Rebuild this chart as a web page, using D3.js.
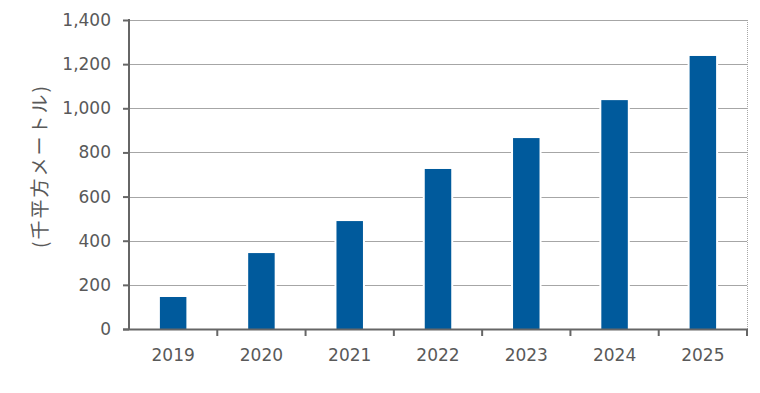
<!DOCTYPE html>
<html><head><meta charset="utf-8">
<script src="https://cdn.jsdelivr.net/npm/d3@7"></script>
<style>body{margin:0;background:#fff}svg{display:block}</style>
</head><body>
<svg id="c" width="760" height="393"></svg>
<script>
const categories = ["2019","2020","2021","2022","2023","2024","2025"];
const values = [145, 344, 489, 725, 865, 1037, 1237];
const yTicks = [0,200,400,600,800,1000,1200,1400];
const yTitle = "(千平方メートル)";

(function(){
const svg = d3.select("#c");
const pL = 129, pR = 747, pT = 20, pB = 329;
const x = d3.scaleBand().domain(categories).range([pL, pR]).paddingInner(0.7).paddingOuter(0.35);
const y = d3.scaleLinear().domain([0,1400]).range([pB, pT]);
const textColor = "#595959";
const font = "'DejaVu Sans', sans-serif";

// gridlines
svg.append("g").selectAll("line").data(yTicks.filter(d=>d>0)).join("line")
  .attr("x1", pL).attr("x2", pR)
  .attr("y1", d=>Math.round(y(d))+0.5).attr("y2", d=>Math.round(y(d))+0.5)
  .attr("stroke", "#a6a6a6").attr("stroke-width", 1);
// right border
svg.append("line").attr("x1", pR+0.5).attr("x2", pR+0.5).attr("y1", pT).attr("y2", pB)
  .attr("stroke", "#a6a6a6").attr("stroke-dasharray","1,1");

// white halo around bars (gridline gaps)
svg.append("g").selectAll("rect").data(categories).join("rect")
  .attr("x", d=>x(d)-2).attr("width", x.bandwidth()+4)
  .attr("y", (d,i)=>y(values[i])).attr("height", (d,i)=>y(0)-y(values[i]))
  .attr("fill", "#fff");
// bars
svg.append("g").selectAll("rect").data(categories).join("rect")
  .attr("x", d=>x(d)).attr("width", x.bandwidth())
  .attr("y", (d,i)=>y(values[i])).attr("height", (d,i)=>y(0)-y(values[i]))
  .attr("fill", "#005A9C");

// y axis
const yAxis = svg.append("g").attr("transform", `translate(${pL},0)`)
  .call(d3.axisLeft(y).tickValues(yTicks).tickSize(6).tickPadding(12).tickFormat(d3.format(",")));
yAxis.select(".domain").remove();
yAxis.selectAll(".tick line").attr("stroke", "#666").attr("stroke-width", 2);
yAxis.selectAll("text").attr("fill", textColor).style("font-family", font).style("font-size","17px");
svg.append("line").attr("x1", pL).attr("x2", pL).attr("y1", pT-1).attr("y2", pB+1)
  .attr("stroke","#666").attr("stroke-width",2);

// x axis
const bounds = d3.range(categories.length+1).map(i => pL + i*(pR-pL)/categories.length);
svg.append("g").selectAll("line").data(bounds.slice(1)).join("line")
  .attr("x1", d=>d).attr("x2", d=>d).attr("y1", pB).attr("y2", pB+7)
  .attr("stroke","#666").attr("stroke-width",2);
svg.append("line").attr("x1", pL-6).attr("x2", pR+1).attr("y1", pB+0.5).attr("y2", pB+0.5)
  .attr("stroke","#666").attr("stroke-width",2);
svg.append("g").selectAll("text").data(categories).join("text")
  .attr("x", d=>x(d)+x.bandwidth()/2).attr("y", 361)
  .attr("text-anchor","middle").attr("fill", textColor)
  .style("font-family", font).style("font-size","17px").text(d=>d);

// y title
svg.append("text").attr("transform", "translate(47,166) rotate(-90)")
  .attr("text-anchor","middle").attr("fill", textColor)
  .style("font-family","'Noto Sans CJK JP', sans-serif").style("font-size","19px")
  .style("letter-spacing","2px")
  .text(yTitle);
})();
</script>
</body></html>
